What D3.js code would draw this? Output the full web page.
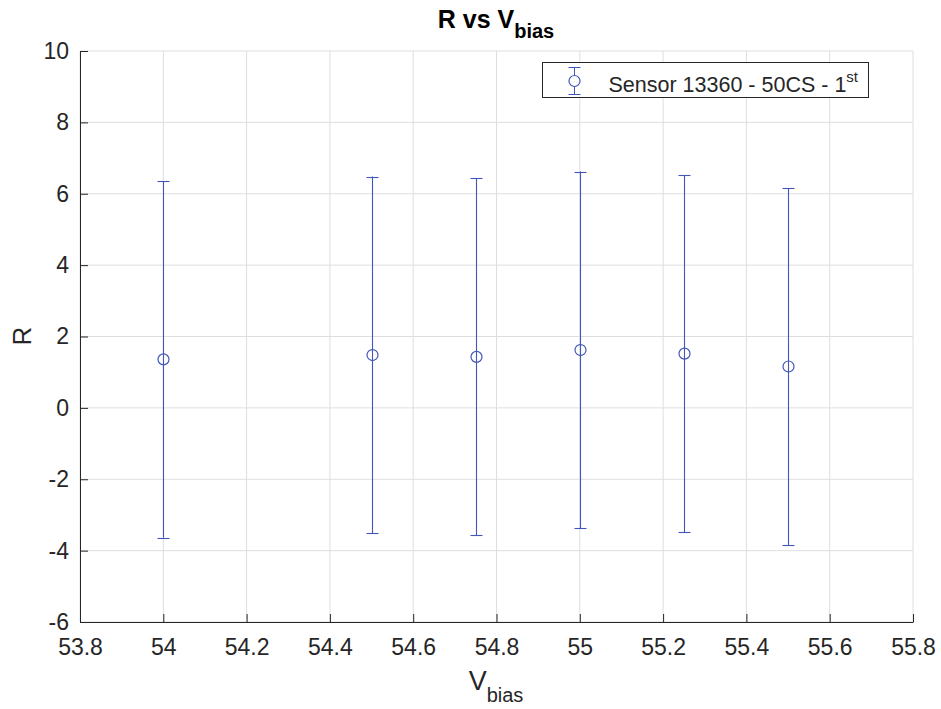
<!DOCTYPE html>
<html>
<head>
<meta charset="utf-8">
<script src="https://cdn.jsdelivr.net/npm/d3@7"></script>
<style>
  body { margin: 0; background: #fff; }
  svg { font-family: "Liberation Sans", Arial, sans-serif; }
</style>
</head>
<body>
<svg id="chart" width="941" height="709"></svg>
<script>
// data
var vbias = [54, 54.5, 54.75, 55, 55.25, 55.5];
var rValues = [1.36, 1.48, 1.43, 1.62, 1.52, 1.16];
var rErrors = [5.0, 5.0, 5.0, 5.0, 5.0, 5.0];
var xTicks = [53.8, 54, 54.2, 54.4, 54.6, 54.8, 55, 55.2, 55.4, 55.6, 55.8];
var yTicks = [-6, -4, -2, 0, 2, 4, 6, 8, 10];
var seriesName = "Sensor 13360 - 50CS - 1";

var svg = d3.select("#chart"),
    margin = {top: 51, right: 28, bottom: 87, left: 80},
    width = +svg.attr("width") - margin.left - margin.right,
    height = +svg.attr("height") - margin.top - margin.bottom;

var blue = "#4256b8";

var x = d3.scaleLinear().domain([53.8, 55.8]).range([0, width]),
    y = d3.scaleLinear().domain([-6, 10]).range([height, 0]);

// snap to pixel centre so thin lines stay crisp
function px(v) { return Math.round(v) + 0.5; }

var g = svg.append("g")
    .attr("transform", "translate(" + margin.left + "," + margin.top + ")");

// grid
g.append("g").selectAll("line").data(xTicks).enter().append("line")
    .attr("x1", d => x(d)).attr("x2", d => x(d))
    .attr("y1", 0).attr("y2", height)
    .attr("stroke", "#dedede").attr("stroke-width", 1);
g.append("g").selectAll("line").data(yTicks).enter().append("line")
    .attr("y1", d => y(d)).attr("y2", d => y(d))
    .attr("x1", 0).attr("x2", width)
    .attr("stroke", "#dedede").attr("stroke-width", 1);

// axes
var xAxis = g.append("g")
    .attr("transform", "translate(0," + height + ")")
    .call(d3.axisBottom(x).tickValues(xTicks).tickSizeInner(-8).tickSizeOuter(0).tickPadding(17).tickFormat(d3.format("")));
var yAxis = g.append("g")
    .call(d3.axisLeft(y).tickValues(yTicks).tickSizeInner(-8).tickSizeOuter(0).tickPadding(11).tickFormat(d => d < 0 ? "-" + Math.abs(d) : d));

[xAxis, yAxis].forEach(function (a) {
    a.select(".domain").attr("stroke", "#262626").attr("stroke-width", 1);
    a.selectAll(".tick line").attr("stroke", "#262626");
    a.selectAll(".tick text").attr("fill", "#262626").style("font-size", "23px")
        .style("font-family", "Liberation Sans, Arial, sans-serif");
});

// error bars
var pts = vbias.map((v, i) => ({x: v, y: rValues[i], e: rErrors[i]}));
var eb = g.append("g").selectAll("g").data(pts).enter().append("g");
eb.append("line")
    .attr("x1", d => px(x(d.x))).attr("x2", d => px(x(d.x)))
    .attr("y1", d => y(d.y + d.e)).attr("y2", d => y(d.y - d.e))
    .attr("stroke", blue).attr("stroke-width", 1.1);
[1, -1].forEach(function (s) {
    eb.append("line")
        .attr("x1", d => px(x(d.x)) - 6).attr("x2", d => px(x(d.x)) + 6)
        .attr("y1", d => px(y(d.y + s * d.e))).attr("y2", d => px(y(d.y + s * d.e)))
        .attr("stroke", blue).attr("stroke-width", 1.1);
});
eb.append("circle")
    .attr("cx", d => px(x(d.x))).attr("cy", d => y(d.y)).attr("r", 5.5)
    .attr("fill", "none").attr("stroke", blue).attr("stroke-width", 1.2);

// legend
var lg = svg.append("g").attr("transform", "translate(542.5,62.5)");
lg.append("rect").attr("width", 326).attr("height", 35)
    .attr("fill", "#fff").attr("stroke", "#262626").attr("stroke-width", 1);
lg.append("line").attr("x1", 32).attr("x2", 32).attr("y1", 5).attr("y2", 32)
    .attr("stroke", blue);
lg.append("line").attr("x1", 26).attr("x2", 38).attr("y1", 5).attr("y2", 5).attr("stroke", blue);
lg.append("line").attr("x1", 26).attr("x2", 38).attr("y1", 32).attr("y2", 32).attr("stroke", blue);
lg.append("circle").attr("cx", 32).attr("cy", 18.5).attr("r", 5.5)
    .attr("fill", "#fff").attr("stroke", blue).attr("stroke-width", 1.2);
var lt = lg.append("text").attr("x", 66).attr("y", 29)
    .attr("fill", "#262626").style("font-size", "21.5px").text(seriesName);
lt.append("tspan").attr("dy", -10).style("font-size", "15px").text("st");

// title
var t = svg.append("text").attr("x", 496).attr("y", 28).attr("text-anchor", "middle")
    .attr("fill", "#000").style("font-size", "25px").style("font-weight", "bold").text("R vs V");
t.append("tspan").attr("dy", 10).style("font-size", "20px").text("bias");

// axis labels
var xl = svg.append("text").attr("x", 496).attr("y", 690).attr("text-anchor", "middle")
    .attr("fill", "#262626").style("font-size", "27px").text("V");
xl.append("tspan").attr("dy", 12).style("font-size", "20px").text("bias");

svg.append("text").attr("transform", "translate(31,336) rotate(-90)")
    .attr("text-anchor", "middle").attr("fill", "#262626").style("font-size", "26px").text("R");
</script>
</body>
</html>
